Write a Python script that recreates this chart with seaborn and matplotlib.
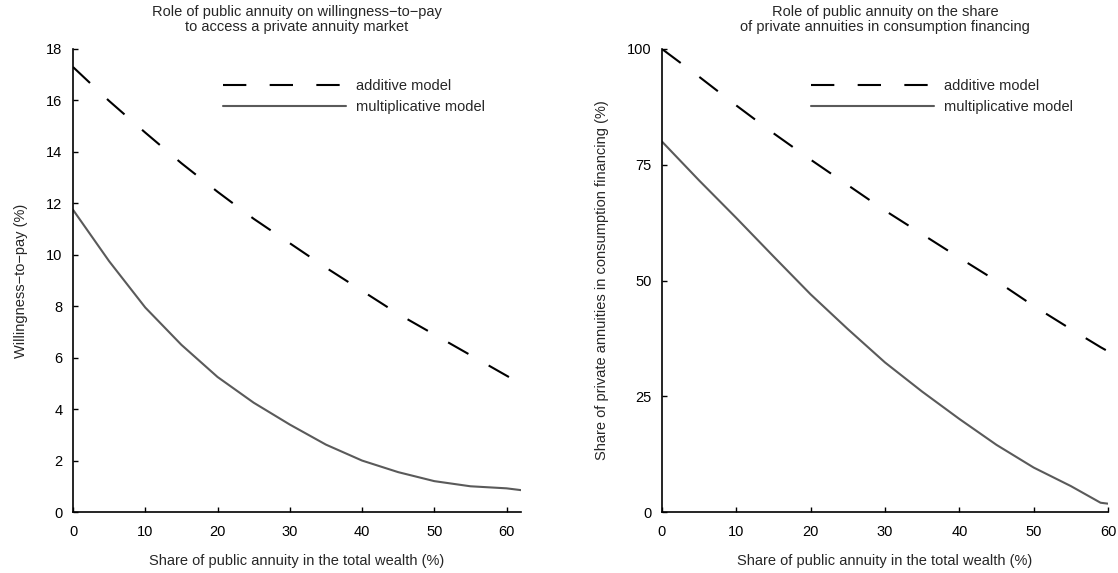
import matplotlib
matplotlib.use("Agg")
import matplotlib.pyplot as plt
import seaborn as sns
import pandas as pd

# ---- data ----
x_left = [0, 5, 10, 15, 20, 25, 30, 35, 40, 45, 50, 55, 60, 62]
add_left = [17.3, 15.98, 14.75, 13.56, 12.45, 11.4, 10.45, 9.5, 8.6, 7.7, 6.9, 6.1, 5.3, 4.98]
mult_left = [11.75, 9.75, 7.95, 6.5, 5.25, 4.25, 3.4, 2.62, 2.0, 1.55, 1.2, 1.0, 0.92, 0.85]

x_right = [0, 5, 10, 15, 20, 25, 30, 35, 40, 45, 50, 55, 59, 60]
add_right = [100, 94.0, 87.8, 81.8, 76.1, 70.6, 65.1, 60.0, 54.9, 49.9, 44.5, 39.5, 35.6, 34.7]
mult_right = [80, 71.6, 63.5, 55.2, 47.0, 39.5, 32.3, 26.0, 20.1, 14.5, 9.6, 5.6, 2.0, 1.8]

models = ["additive model", "multiplicative model"]
titles = ["Role of public annuity on willingness\u2212to\u2212pay\nto access a private annuity market",
          "Role of public annuity on the share\nof private annuities in consumption financing"]
ylabels = ["Willingness\u2212to\u2212pay (%)", "Share of private annuities in consumption financing (%)"]
xlabel = "Share of public annuity in the total wealth (%)"
yticks_left = [0, 2, 4, 6, 8, 10, 12, 14, 16, 18]
yticks_right = [0, 25, 50, 75, 100]
xticks = [0, 10, 20, 30, 40, 50, 60]

sns.set_theme(style="white")
plt.rcParams["font.family"] = ["Liberation Sans", "DejaVu Sans"]

FS = 10.5


def long_df(x, a, m):
    return pd.DataFrame({
        "x": list(x) + list(x),
        "y": list(a) + list(m),
        "model": [models[0]] * len(x) + [models[1]] * len(x),
    })


fig = plt.figure(figsize=(11.18, 5.73), dpi=100)
ax1 = fig.add_axes([73 / 1118, 61 / 573, 448 / 1118, 463 / 573])
ax2 = fig.add_axes([662 / 1118, 61 / 573, 446 / 1118, 463 / 573])

palette = {models[0]: "#000000", models[1]: "#5a5a5a"}
dashes = {models[0]: (11.2, 11.2), models[1]: ""}

panels = [
    (ax1, long_df(x_left, add_left, mult_left), (0, 62), (0, 18), yticks_left),
    (ax2, long_df(x_right, add_right, mult_right), (0, 60), (0, 100), yticks_right),
]

for i, (ax, df, xl, yl, yt) in enumerate(panels):
    sns.lineplot(data=df, x="x", y="y", hue="model", style="model",
                 palette=palette, dashes=dashes, linewidth=1.5, ax=ax,
                 estimator=None, sort=False)
    ax.set_xlim(*xl)
    ax.set_ylim(*yl)
    ax.set_xticks(xticks)
    ax.set_yticks(yt)
    ax.set_title(titles[i], fontsize=FS, pad=13, linespacing=1.1)
    ax.set_xlabel(xlabel, fontsize=FS, labelpad=11)
    ax.set_ylabel(ylabels[i], fontsize=FS, labelpad=13)
    ax.tick_params(axis="both", direction="in", length=3.5, width=1.0,
                   labelsize=FS, bottom=True, left=True, colors="black")
    ax.tick_params(axis="x", pad=9.5)
    ax.tick_params(axis="y", pad=7.5)
    for s in ["top", "right"]:
        ax.spines[s].set_visible(False)
    for s in ["left", "bottom"]:
        ax.spines[s].set_color("black")
        ax.spines[s].set_linewidth(1.2)
    ax.set_facecolor("white")
    leg = ax.legend(loc="upper left", bbox_to_anchor=(0.335, 0.935), frameon=False,
                    fontsize=FS, handlelength=8.4, handletextpad=0.7,
                    labelspacing=0.45, borderpad=0, borderaxespad=0)
    for h in leg.get_lines():
        h.set_linewidth(1.5)

fig.savefig("out.png", dpi=100, facecolor="white")
